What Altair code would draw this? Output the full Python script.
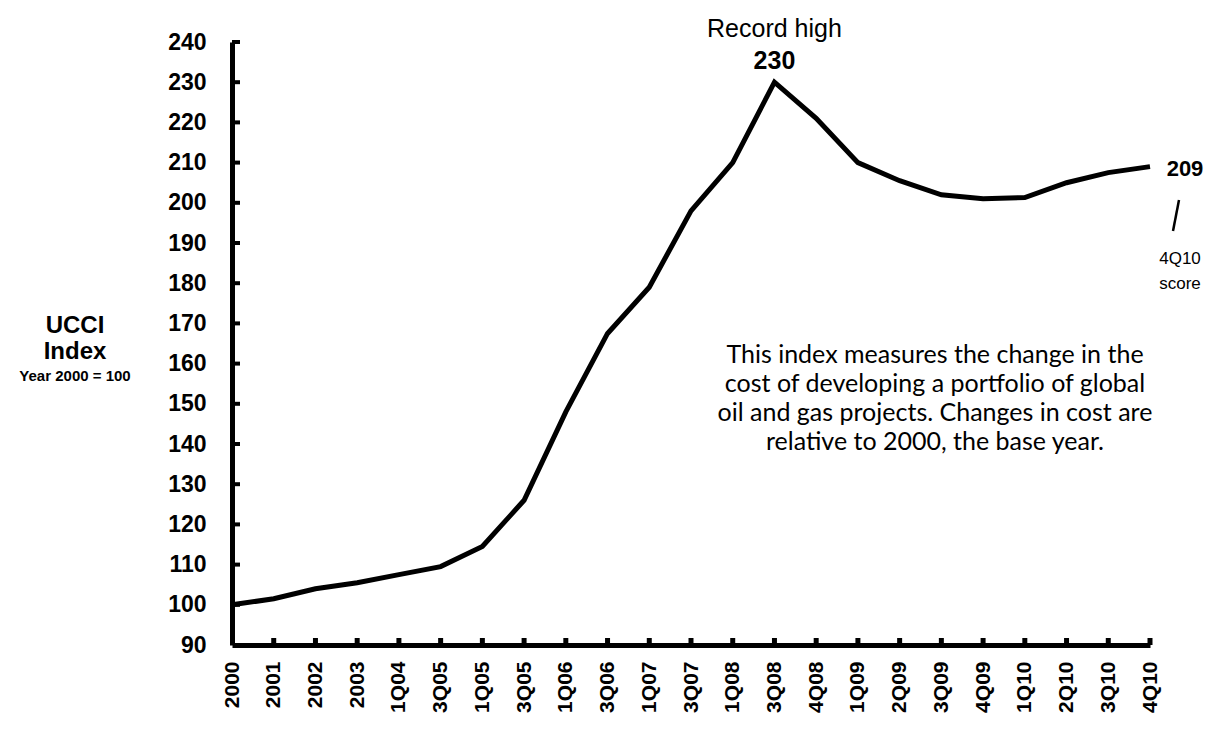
import altair as alt
import pandas as pd

labels = ["2000", "2001", "2002", "2003", "1Q04", "3Q05", "1Q05", "3Q05", "1Q06", "3Q06",
          "1Q07", "3Q07", "1Q08", "3Q08", "4Q08", "1Q09", "2Q09", "3Q09", "4Q09", "1Q10",
          "2Q10", "3Q10", "4Q10"]
values = [100, 101.5, 104, 105.5, 107.5, 109.5, 114.5, 126, 148, 167.5,
          179, 198, 210, 230, 221, 210, 205.5, 202, 201, 201.3,
          205, 207.5, 209]
y_ticks = list(range(90, 250, 10))

W, H = 918, 603
FONT = "Liberation Sans"

df = pd.DataFrame({"i": list(range(len(labels))), "label": labels, "v": values})
ytick_df = pd.DataFrame({"v": [t for t in y_ticks if t > 90]})
xtick_df = pd.DataFrame({"i": list(range(1, len(labels)))})

label_expr = "[" + ",".join("'%s'" % l for l in labels) + "][datum.value]"

xscale = alt.Scale(domain=[0, len(labels) - 1], nice=False, zero=False)
yscale = alt.Scale(domain=[90, 240], nice=False, zero=False)

base = alt.Chart(df)

line = base.mark_line(color="black", strokeWidth=5, strokeJoin="miter").encode(
    x=alt.X("i:Q", scale=xscale,
            axis=alt.Axis(values=list(range(len(labels))), labelExpr=label_expr,
                          labelAngle=270, labelAlign="right", labelBaseline="middle",
                          labelFont=FONT, labelFontSize=21, labelFontWeight="bold",
                          labelColor="black", labelPadding=16, ticks=False,
                          domainColor="black", domainWidth=5, grid=False, title=None,
                          labelOverlap=False)),
    y=alt.Y("v:Q", scale=yscale,
            axis=alt.Axis(values=y_ticks, labelFont=FONT, labelFontSize=23,
                          labelFontWeight="bold", labelColor="black", labelPadding=26,
                          ticks=False, domainColor="black", domainWidth=5, grid=False,
                          title=None, labelOverlap=False)),
)

yticks = alt.Chart(ytick_df).mark_rule(color="black", strokeWidth=4).encode(
    y=alt.Y("v:Q", scale=yscale), x=alt.value(0), x2=alt.value(8))
xticks = alt.Chart(xtick_df).mark_rule(color="black", strokeWidth=5).encode(
    x=alt.X("i:Q", scale=xscale), y=alt.value(H), y2=alt.value(H - 7))

peak = df[df["label"] == "3Q08"]
last = df.iloc[[-1]]

peak_val = alt.Chart(peak).mark_text(font=FONT, fontSize=25, fontWeight="bold",
                                     color="black", baseline="middle", dy=-21).encode(
    x=alt.X("i:Q", scale=xscale), y=alt.Y("v:Q", scale=yscale), text=alt.Text("v:Q", format="d"))
peak_lbl = alt.Chart(peak).mark_text(font=FONT, fontSize=25, color="black",
                                     baseline="middle", dy=-53).encode(
    x=alt.X("i:Q", scale=xscale), y=alt.Y("v:Q", scale=yscale), text=alt.value("Record high"))
last_val = alt.Chart(last).mark_text(font=FONT, fontSize=22, fontWeight="bold",
                                     color="black", baseline="middle", dx=35, dy=2).encode(
    x=alt.X("i:Q", scale=xscale), y=alt.Y("v:Q", scale=yscale), text=alt.Text("v:Q", format="d"))

slash = alt.Chart(last).mark_rule(color="black", strokeWidth=2.5).encode(
    x=alt.value(W + 29), x2=alt.value(W + 23), y=alt.value(158), y2=alt.value(189))
score = alt.Chart(last).mark_text(font=FONT, fontSize=17, color="black", align="center",
                                  baseline="middle", lineHeight=25).encode(
    x=alt.value(W + 30), y=alt.value(217), text=alt.value(["4Q10", "score"]))

para = alt.Chart(last).mark_text(font="Lato", fontSize=25, color="black", align="center",
                                 baseline="middle", lineHeight=29).encode(
    x=alt.value(703), y=alt.value(313),
    text=alt.value(["This index measures the change in the",
                    "cost of developing a portfolio of global",
                    "oil and gas projects. Changes in cost are",
                    "relative to 2000, the base year."]))

ytitle = alt.Chart(last).mark_text(font=FONT, fontSize=24, fontWeight="bold", color="black",
                                   align="center", baseline="middle", lineHeight=26).encode(
    x=alt.value(-157), y=alt.value(284), text=alt.value(["UCCI", "Index"]))
ysub = alt.Chart(last).mark_text(font=FONT, fontSize=15, fontWeight="bold", color="black",
                                 align="center", baseline="middle").encode(
    x=alt.value(-157), y=alt.value(334), text=alt.value("Year 2000 = 100"))

chart = alt.layer(line, yticks, xticks, peak_val, peak_lbl, last_val, slash, score, para,
                  ytitle, ysub).properties(
    width=W, height=H,
    autosize=alt.AutoSizeParams(type="none"),
    padding={"left": 224, "top": 34, "right": 55, "bottom": 80},
    background="white",
).configure_view(stroke=None)

chart.save("out.html", embed_options={"renderer": "svg", "actions": False})
